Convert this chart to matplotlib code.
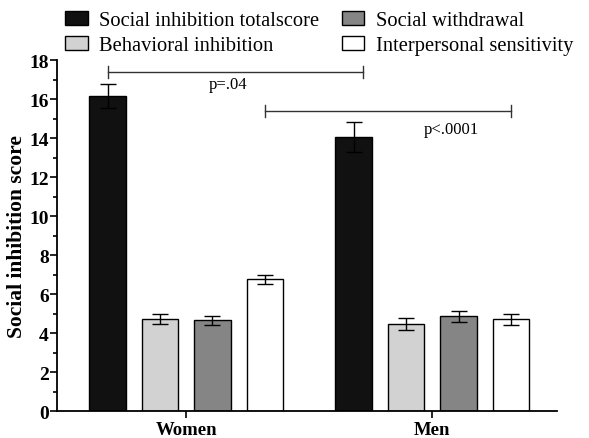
import matplotlib.pyplot as plt
import numpy as np
from matplotlib.ticker import MultipleLocator

# Data
groups = ["Women", "Men"]
series = ["Social inhibition totalscore", "Behavioral inhibition",
          "Social withdrawal", "Interpersonal sensitivity"]
women_means = [16.15, 4.7, 4.65, 6.75]
women_err = [0.6, 0.25, 0.22, 0.25]
men_means = [14.05, 4.45, 4.85, 4.7]
men_err = [0.75, 0.3, 0.28, 0.3]
colors = ["#111111", "#d2d2d2", "#858585", "#ffffff"]

plt.rcParams['font.family'] = ['Liberation Serif', 'DejaVu Serif']

fig = plt.figure(figsize=(5.89, 4.39), dpi=100)
ax = fig.add_axes([0.097, 0.0615, 0.849, 0.7995])

centers = np.array([0.0, 4.69])
offsets = np.array([-1.5, -0.5, 0.5, 1.5])
width = 0.69

handles = []
for i, name in enumerate(series):
    vals = [women_means[i], men_means[i]]
    errs = [women_err[i], men_err[i]]
    b = ax.bar(centers + offsets[i], vals, width=width, color=colors[i],
               edgecolor="black", linewidth=1.0, label=name, zorder=2)
    ax.errorbar(centers + offsets[i], vals, yerr=errs, fmt="none",
                ecolor="black", elinewidth=1.0, capsize=6, capthick=1.0, zorder=3)
    handles.append(b)

# significance brackets
def bracket(x1, x2, y, text, tx, ty):
    ax.plot([x1, x2], [y, y], color="#333333", lw=1.0, clip_on=False)
    ax.plot([x1, x1], [y - 0.3, y + 0.3], color="#333333", lw=1.0, clip_on=False)
    ax.plot([x2, x2], [y - 0.3, y + 0.3], color="#333333", lw=1.0, clip_on=False)
    ax.text(tx, ty, text, fontsize=12, ha="center", va="center")

bracket(centers[0] + offsets[0], 3.37, 17.4, "p=.04", 0.8, 16.75)
bracket(centers[0] + offsets[3], centers[1] + offsets[3], 15.4, "p<.0001", 5.05, 14.45)

ax.set_xlim(-2.46, 7.07)
ax.set_ylim(0, 18)
ax.set_xticks(centers)
ax.set_xticklabels(groups, fontsize=13.5, fontweight="bold")
ax.yaxis.set_major_locator(MultipleLocator(2))
ax.yaxis.set_minor_locator(MultipleLocator(1))
for lbl in ax.get_yticklabels():
    lbl.set_fontweight("bold")
    lbl.set_fontsize(14)
ax.set_ylabel("Social inhibition score", fontsize=15.5, fontweight="bold")
ax.yaxis.set_label_coords(-0.06, 0.5)
ax.tick_params(axis="y", which="major", length=5, width=1.2, pad=1)
ax.tick_params(axis="y", which="minor", length=3, width=1.2)
ax.tick_params(axis="x", length=5, width=1.2, pad=2)
ax.spines["top"].set_visible(False)
ax.spines["right"].set_visible(False)
ax.spines["left"].set_linewidth(1.3)
ax.spines["bottom"].set_linewidth(1.3)

fig.legend(handles=handles, labels=series, ncol=2, loc="upper left",
           bbox_to_anchor=(0.079, 1.015), frameon=False, fontsize=14.8,
           handlelength=1.1, handleheight=0.65, columnspacing=1.1,
           labelspacing=0.3, handletextpad=0.55, borderpad=0.4)

fig.savefig("out.png", dpi=100)
